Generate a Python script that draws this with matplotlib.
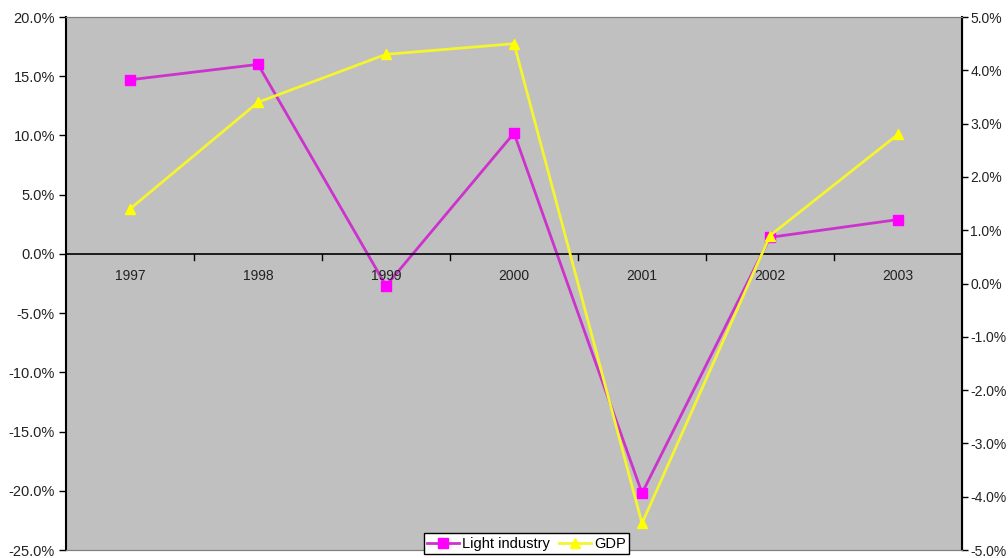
import matplotlib.pyplot as plt
from matplotlib.ticker import FuncFormatter

years = ['1997', '1998', '1999', '2000', '2001', '2002', '2003']
light_industry = [14.7, 16.0, -2.7, 10.2, -20.2, 1.4, 2.9]
gdp = [1.4, 3.4, 4.3, 4.5, -4.5, 0.9, 2.8]

plt.rcParams['font.family'] = ['Liberation Sans', 'DejaVu Sans']

fig = plt.figure(figsize=(10.08, 5.58), dpi=100)
ax = fig.add_axes([0.0655, 0.0143, 0.8889, 0.9552])
ax.set_facecolor('#c0c0c0')
ax2 = ax.twinx()

x = list(range(len(years)))

l1, = ax.plot(x, light_industry, color='#cc33cc', marker='s', markersize=7,
              markerfacecolor='#ff00ff', markeredgecolor='#ff00ff',
              linewidth=2, label='Light industry')
l2, = ax2.plot(x, gdp, color='#f4f430', marker='^', markersize=7,
               markerfacecolor='#ffff00', markeredgecolor='#ffff00',
               linewidth=2, label='GDP')

ax.set_xlim(-0.5, len(years) - 0.5)
ax.set_ylim(-25, 20)
ax2.set_ylim(-5, 5)
ax.set_yticks([20 - 5 * i for i in range(10)])
ax2.set_yticks(list(range(-5, 6)))

pct = FuncFormatter(lambda v, p: '%.1f%%' % v)
ax.yaxis.set_major_formatter(pct)
ax2.yaxis.set_major_formatter(pct)
ax.tick_params(axis='y', labelsize=10.5, length=5, width=1, direction='out',
               labelcolor='#222222', pad=3)
ax2.tick_params(axis='y', labelsize=10, length=4, width=1, direction='out',
                labelcolor='#222222', pad=2)

# category axis drawn at the 0% line
ax.set_xticks([])
ax.axhline(0, color='black', linewidth=1.2)
for i in range(1, len(years)):
    ax.plot([i - 0.5, i - 0.5], [0, -0.5], color='black', linewidth=1)
for i, yr in enumerate(years):
    ax.text(i, -1.9, yr, ha='center', va='center', fontsize=10,
            color='#222222')

for side in ['top', 'bottom']:
    ax.spines[side].set_color('#808080')
    ax2.spines[side].set_color('#808080')
ax.spines['left'].set_linewidth(1.5)
ax2.spines['right'].set_linewidth(1.5)
ax2.spines['left'].set_visible(False)

leg = ax2.legend([l1, l2], ['Light industry', 'GDP'], loc='lower center',
                 bbox_to_anchor=(0.514, -0.022), ncol=2, fontsize=10.5,
                 frameon=True, fancybox=False, framealpha=1,
                 handlelength=2.2, handletextpad=0.2, columnspacing=0.6,
                 borderpad=0.25)
leg.get_frame().set_edgecolor('black')
leg.set_clip_on(False)

fig.savefig('out.png', dpi=100)
